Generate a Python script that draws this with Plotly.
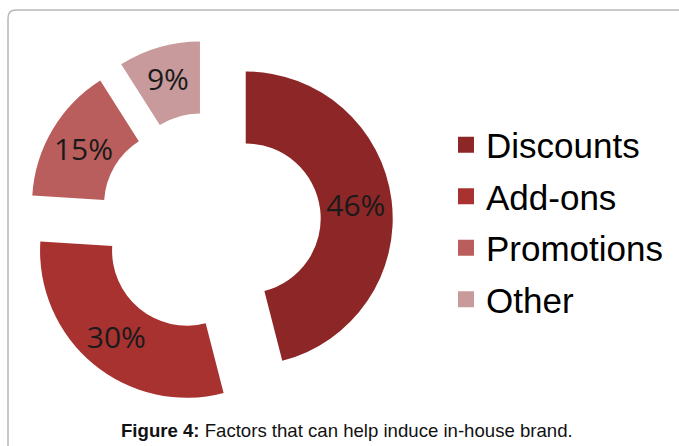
import plotly.graph_objects as go

categories = ["Discounts", "Add-ons", "Promotions", "Other"]
shares = [46, 30, 15, 9]
colors = ["#8D2626", "#A83230", "#BA5E5D", "#C89A9B"]
caption = "<b>Figure 4:</b> Factors that can help induce in-house brand."

W, H = 679, 446

fig = go.Figure()
fig.add_trace(go.Pie(
    labels=categories,
    values=shares,
    sort=False,
    direction="clockwise",
    rotation=0,
    hole=0.51,
    pull=[0.245] * len(shares),
    marker=dict(colors=colors, line=dict(width=0)),
    textinfo="percent",
    textposition="inside",
    insidetextorientation="horizontal",
    textfont=dict(family="Open Sans", size=30, color="#1a1a1a"),
    domain=dict(x=[27 / W, 393 / W], y=[40 / H, 406 / H]),
    showlegend=False,
))

for name, col in zip(categories, colors):
    fig.add_trace(go.Scatter(
        x=[None], y=[None], mode="markers", name=name,
        legendgroup=name,
        marker=dict(symbol="square", size=16, color=col, line=dict(width=0)),
    ))

fig.update_layout(
    width=W, height=H,
    margin=dict(l=0, r=0, t=0, b=0),
    paper_bgcolor="white", plot_bgcolor="white",
    xaxis=dict(visible=False), yaxis=dict(visible=False),
    uniformtext=dict(minsize=30, mode="show"),
    legend=dict(
        x=446 / W, xanchor="left", y=1 - 222 / H, yanchor="middle",
        font=dict(family="Liberation Sans, Arial", size=35, color="#000"),
        traceorder="grouped", tracegroupgap=3,
        bgcolor="rgba(0,0,0,0)", borderwidth=0,
    ),
    annotations=[dict(
        text=caption, xref="paper", yref="paper",
        x=347 / W, y=1 - 430 / H, xanchor="center", yanchor="middle",
        showarrow=False,
        font=dict(family="Liberation Sans, Arial", size=18.6, color="#111"),
    )],
    shapes=[dict(
        type="path", xref="paper", yref="paper",
        path=(f"M {8/W},-0.1 L {8/W},{1-18/H} Q {8/W},{1-10/H} {16/W},{1-10/H} L 1.1,{1-10/H}"),
        line=dict(color="#b8b8b8", width=1.5),
    )],
)

fig.write_html("out.html")
